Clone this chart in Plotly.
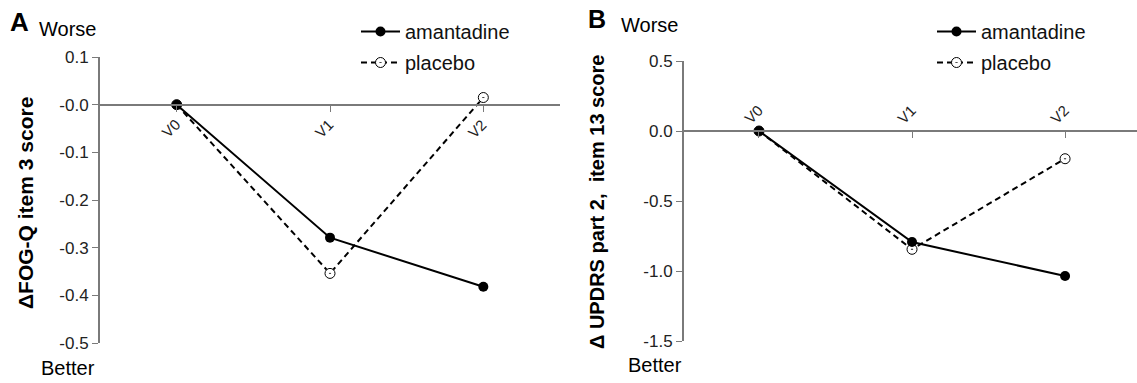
import plotly.graph_objects as go

W, H = 1137, 383

visits = ["V0", "V1", "V2"]
visit_pos = [0, 1, 2]

# Panel A: change in FOG-Q item 3 score
fogq_amantadine = [0.0, -0.279, -0.382]
fogq_placebo = [0.0, -0.354, 0.015]
fogq_ticks = [0.1, 0.0, -0.1, -0.2, -0.3, -0.4, -0.5]
fogq_ticklabels = ["0.1", "-0.0", "-0.1", "-0.2", "-0.3", "-0.4", "-0.5"]

# Panel B: change in UPDRS part 2, item 13 score
updrs_amantadine = [0.0, -0.793, -1.036]
updrs_placebo = [0.0, -0.845, -0.198]
updrs_ticks = [0.5, 0.0, -0.5, -1.0, -1.5]
updrs_ticklabels = ["0.5", "0.0", "-0.5", "-1.0", "-1.5"]

AXC = "#7a7a7a"
FONT = "Liberation Sans, Arial, sans-serif"

def px_x(p):
    return p / W

def px_y(p):
    return 1 - p / H

fig = go.Figure()

def add_series(xa, ya, amant, plac, legend):
    # placebo drawn first so the filled amantadine markers sit on top
    fig.add_trace(go.Scatter(
        x=visit_pos, y=plac, name="placebo", mode="lines+markers",
        xaxis=xa, yaxis=ya, legend=legend, legendgroup=legend + "p",
        legendrank=2,
        line=dict(color="black", width=2, dash="6px,4px"),
        marker=dict(symbol="circle-dot", size=10, color="white",
                    line=dict(color="black", width=1)),
        cliponaxis=False,
    ))
    fig.add_trace(go.Scatter(
        x=visit_pos, y=amant, name="amantadine", mode="lines+markers",
        xaxis=xa, yaxis=ya, legend=legend, legendgroup=legend + "a",
        legendrank=1,
        line=dict(color="black", width=2),
        marker=dict(symbol="circle", size=10, color="black"),
        cliponaxis=False,
    ))

add_series("x", "y", fogq_amantadine, fogq_placebo, "legend")
add_series("x2", "y2", updrs_amantadine, updrs_placebo, "legend2")

# Domains (pixels converted to paper fractions)
A_x = [px_x(100), px_x(560)]
A_y = [px_y(343), px_y(57)]
B_x = [px_x(684), 1.0]
B_y = [px_y(341), px_y(61)]

A_yr = [-0.5, 0.1]
B_yr = [-1.5, 0.5]

def zero_pos(dom, rng):
    frac = (0 - rng[0]) / (rng[1] - rng[0])
    return dom[0] + frac * (dom[1] - dom[0])

tickfont = dict(family=FONT, size=17, color="#222")

def xaxis_cfg(dom, rng, ydom, yrng, side, ticks):
    return dict(domain=dom, range=rng, anchor="free",
                position=zero_pos(ydom, yrng),
                tickvals=visit_pos, showticklabels=False,
                side=side, ticks=ticks, ticklen=6, tickwidth=1,
                tickcolor=AXC, showline=True, linecolor=AXC, linewidth=2,
                showgrid=False, zeroline=False, automargin=False)

def yaxis_cfg(dom, rng, anchor, tv, tt):
    return dict(domain=dom, range=rng, anchor=anchor,
                tickvals=tv, ticktext=tt,
                ticks="outside", ticklen=6, tickwidth=1, tickcolor=AXC,
                showline=True, linecolor=AXC, linewidth=2,
                showgrid=False, zeroline=False, automargin=False,
                tickfont=tickfont)

legend_font = dict(family=FONT, size=20, color="#111")

fig.update_layout(
    width=W, height=H,
    margin=dict(l=0, r=0, t=0, b=0),
    paper_bgcolor="white", plot_bgcolor="white",
    showlegend=True,
    xaxis=xaxis_cfg(A_x, [-0.5, 2.5], A_y, A_yr, "bottom", "outside"),
    yaxis=yaxis_cfg(A_y, A_yr, "x", fogq_ticks, fogq_ticklabels),
    xaxis2=xaxis_cfg(B_x, [-0.49, 2.47], B_y, B_yr, "top", "inside"),
    yaxis2=yaxis_cfg(B_y, B_yr, "x2", updrs_ticks, updrs_ticklabels),
    legend=dict(x=px_x(356), y=px_y(12), xanchor="left", yanchor="top",
                bgcolor="rgba(0,0,0,0)", borderwidth=0,
                font=legend_font, itemwidth=39, tracegroupgap=2),
    legend2=dict(x=px_x(932), y=px_y(12), xanchor="left", yanchor="top",
                 bgcolor="rgba(0,0,0,0)", borderwidth=0,
                 font=legend_font, itemwidth=39, tracegroupgap=2),
)

ann = []
def text(x, y, s, size, bold=False, angle=0):
    ann.append(dict(x=px_x(x), y=px_y(y), xref="paper", yref="paper",
                    text=f"<b>{s}</b>" if bold else s, showarrow=False,
                    textangle=angle, xanchor="center", yanchor="middle",
                    font=dict(family=FONT, size=size, color="black")))

text(19, 22, "A", 26, bold=True)
text(67, 29, "Worse", 20)
text(68, 368, "Better", 20)
text(25, 203, "ΔFOG-Q item 3 score", 21, bold=True, angle=-90)

text(597, 19, "B", 25, bold=True)
text(649, 25, "Worse", 20)
text(655, 365, "Better", 20)
text(597, 202, "Δ UPDRS part 2,\u00a0 item 13 score", 20, bold=True, angle=-90)

# Rotated visit labels placed at the data positions on the zero line
for xr, yr, ysh in (("x", "y", -24), ("x2", "y2", 17)):
    for pos, lab in zip(visit_pos, visits):
        ann.append(dict(x=pos, y=0, xref=xr, yref=yr, text=lab,
                        showarrow=False, textangle=-45, xshift=-6, yshift=ysh,
                        xanchor="center", yanchor="middle",
                        font=dict(family=FONT, size=15, color="#222")))

fig.update_layout(annotations=ann)

fig.write_html("out.html", config={"displayModeBar": False},
               post_script="document.body.style.margin='0';")
